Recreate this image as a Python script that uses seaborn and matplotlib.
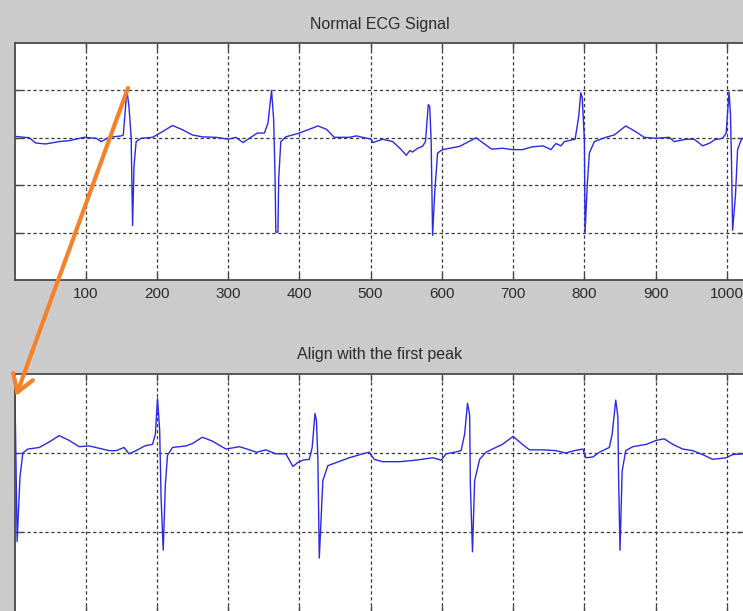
import matplotlib
matplotlib.use("Agg")
import matplotlib.pyplot as plt
from matplotlib.patches import FancyArrowPatch
import seaborn as sns

# ---------------- data ----------------
top_title = "Normal ECG Signal"
bottom_title = "Align with the first peak"

x_ticks = [100, 200, 300, 400, 500, 600, 700, 800, 900, 1000]
x_tick_labels = ["100", "200", "300", "400", "500", "600", "700", "800", "900", "1000"]
top_y_grid = [-2, -1, 0, 1]
bottom_y_grid = [-1, 0]

top_x = [1, 21, 30, 44, 63, 77, 98, 115, 122, 133, 150, 153, 158, 161, 164, 166, 168,
         171, 178, 194, 208, 222, 236, 250, 264, 283, 300, 311, 321, 330, 341, 351, 356,
         361, 364, 366, 367, 370, 371, 374, 381, 400, 414, 426, 438, 449, 470, 480, 501,
         503, 517, 531, 543, 550, 555, 559, 566, 573, 577, 581, 583, 585, 587, 590, 594,
         601, 625, 648, 658, 670, 685, 699, 713, 727, 742, 753, 760, 767, 772, 784, 787,
         792, 795, 797, 800, 801, 804, 807, 814, 830, 842, 858, 872, 884, 900, 919, 926,
         943, 954, 966, 976, 983, 994, 999, 1003, 1005, 1006.5, 1008, 1012, 1015, 1020, 1024]
top_y = [0.03, 0.0, -0.11, -0.13, -0.08, -0.06, 0.01, -0.01, -0.08, 0.01, 0.04, 0.06, 1.01,
         0.65, 0.01, -1.85, -0.6, -0.08, -0.01, 0.01, 0.13, 0.26, 0.17, 0.06, 0.02, 0.01,
         -0.03, 0.01, -0.1, -0.01, 0.1, 0.1, 0.31, 1.0, 0.38, -0.88, -1.99, -1.99, -0.88,
         -0.08, 0.02, 0.1, 0.18, 0.25, 0.18, 0.01, 0.01, 0.04, -0.03, -0.1, -0.03, -0.08,
         -0.25, -0.37, -0.27, -0.3, -0.22, -0.18, -0.08, 0.7, 0.66, -0.08, -2.06, -1.15,
         -0.32, -0.25, -0.18, 0.0, -0.11, -0.24, -0.22, -0.25, -0.25, -0.19, -0.17, -0.25,
         -0.12, -0.17, -0.08, -0.04, -0.03, 0.44, 0.95, 0.85, -0.04, -1.99, -1.01, -0.32,
         -0.08, 0.01, 0.06, 0.25, 0.13, 0.01, -0.01, 0.01, -0.08, -0.03, -0.03, -0.17,
         -0.11, -0.04, -0.01, 0.1, 0.97, 0.51, -0.52, -1.95, -1.22, -0.25, -0.04, 0.0]

bottom_x = [1, 4, 8, 12, 19, 35, 49, 63, 77, 91, 105, 119, 133, 143, 154, 161, 171, 183,
            194, 198, 201, 204, 206, 209, 212, 215, 222, 241, 250, 264, 278, 297, 316, 330,
            340, 353, 367, 381, 391, 398, 405, 414, 418, 422, 424, 426, 428, 433, 440, 452,
            470, 489, 498, 505, 517, 541, 564, 587, 599, 606, 618, 627, 632, 636, 639, 640,
            643, 646, 653, 662, 671, 685, 700, 713, 723, 742, 760, 774, 786, 798, 802, 812,
            821, 835, 839, 844, 847, 848, 850, 853, 858, 868, 887, 901, 912, 924, 938, 952,
            966, 980, 999, 1008, 1024]
bottom_y = [0.72, -1.12, -0.3, 0.0, 0.05, 0.07, 0.14, 0.22, 0.16, 0.08, 0.09, 0.06, 0.03,
            0.03, 0.07, -0.01, 0.03, 0.09, 0.11, 0.24, 0.69, 0.29, -0.57, -1.23, -0.4,
            -0.03, 0.07, 0.09, 0.12, 0.2, 0.15, 0.05, 0.08, 0.04, 0.01, 0.04, -0.01, -0.01,
            -0.17, -0.12, -0.09, -0.08, 0.07, 0.5, 0.41, -0.06, -1.33, -0.35, -0.16, -0.12,
            -0.06, -0.01, 0.01, -0.08, -0.11, -0.11, -0.09, -0.06, -0.09, -0.01, 0.01, 0.03,
            0.24, 0.63, 0.48, -0.4, -1.25, -0.35, -0.08, 0.01, 0.05, 0.11, 0.21, 0.11, 0.04,
            0.04, 0.03, 0.0, 0.03, 0.05, -0.06, -0.05, 0.01, 0.07, 0.24, 0.67, 0.46, -0.31,
            -1.23, -0.23, 0.03, 0.08, 0.11, 0.16, 0.18, 0.11, 0.05, 0.03, -0.02, -0.08,
            -0.06, -0.02, -0.01]

# ---------------- style ----------------
sns.set_style("white")
plt.rcParams["font.family"] = ["Liberation Sans", "DejaVu Sans"]
plt.rcParams["lines.scale_dashes"] = False

W, H = 743, 611
BG = "#cbcbcb"
LINE = "#2a2ae6"
GRID = "#3a3a3a"
SPINE = "#4a4a4a"
TEXT = "#2b2b2b"

fig = plt.figure(figsize=(W / 100, H / 100), dpi=100, facecolor=BG)

ax1 = fig.add_axes([15 / W, 1 - 280 / H, 729 / W, 237 / H])
ax2 = fig.add_axes([15 / W, 1 - 613 / H, 729 / W, 239 / H])


def style_axes(ax, ygrid, ylim, show_xlabels):
    ax.set_facecolor("white")
    ax.set_xlim(1, 1024)
    ax.set_ylim(*ylim)
    ax.set_xticks(x_ticks)
    if show_xlabels:
        ax.set_xticklabels(x_tick_labels)
    else:
        ax.set_xticklabels([])
    ax.set_yticks(ygrid)
    ax.set_yticklabels([])
    ax.set_axisbelow(True)
    ax.grid(True, color=GRID, linestyle=(0, (2.4, 1.9)), linewidth=0.9)
    ax.tick_params(axis="both", direction="in", length=5, width=1.0, color=SPINE,
                   top=True, right=True, bottom=True, left=True,
                   labelsize=11, labelcolor=TEXT, pad=5)
    for s in ax.spines.values():
        s.set_color(SPINE)
        s.set_linewidth(1.3)
    ax.set_xlabel("")
    ax.set_ylabel("")


sns.lineplot(x=top_x, y=top_y, ax=ax1, color=LINE, linewidth=1.0,
             sort=False, estimator=None)
sns.lineplot(x=bottom_x, y=bottom_y, ax=ax2, color=LINE, linewidth=1.0,
             sort=False, estimator=None)

style_axes(ax1, top_y_grid, (-3, 2), True)
style_axes(ax2, bottom_y_grid, (-2.025, 1), False)

ax1.text(0.5, 1 + 18 / 237, top_title, transform=ax1.transAxes, ha="center",
         va="center", fontsize=11.5, color=TEXT)
ax2.text(0.5, 1 + 19 / 239, bottom_title, transform=ax2.transAxes, ha="center",
         va="center", fontsize=11.5, color=TEXT)

# orange arrow from the first peak of the top signal to the start of the bottom one
arrow = FancyArrowPatch((128 / W, 1 - 88 / H), (16 / W, 1 - 396 / H),
                        transform=fig.transFigure,
                        arrowstyle="->,head_length=0.4,head_width=0.25",
                        mutation_scale=30, lw=3, color="#f5822a",
                        shrinkA=0, shrinkB=0, zorder=10)
fig.add_artist(arrow)

fig.savefig("out.png", dpi=100, facecolor=BG)
